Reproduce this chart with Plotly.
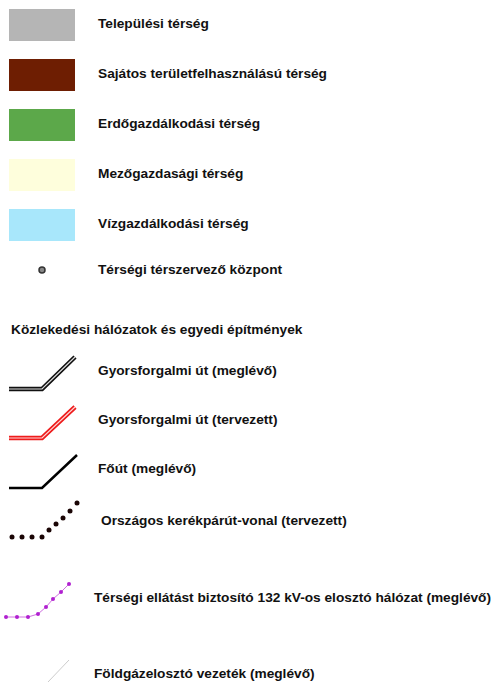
import plotly.graph_objects as go

# ---- data ----
area_labels = ["Települési térség", "Sajátos területfelhasználású térség",
               "Erdőgazdálkodási térség", "Mezőgazdasági térség", "Vízgazdálkodási térség"]
area_colors = ["#b5b5b5", "#6e1e02", "#5ca84a", "#fefedc", "#a8e7fb"]
center_label = "Térségi térszervező központ"
section_title = "Közlekedési hálózatok és egyedi építmények"
line_labels = ["Gyorsforgalmi út (meglévő)", "Gyorsforgalmi út (tervezett)", "Főút (meglévő)",
               "Országos kerékpárút-vonal (tervezett)",
               "Térségi ellátást biztosító 132 kV-os elosztó hálózat (meglévő)",
               "Földgázelosztó vezeték (meglévő)"]

# symbol geometry (legend glyph shapes in pixel units)
expr_x = [9, 42, 75]; expr_y = [389, 389, 357]
plan_x = [9, 42, 75]; plan_y = [438, 438, 407]
main_x = [9, 42, 77]; main_y = [488, 488, 455]
bike_x = [12, 22, 32, 42, 49, 56, 63, 70, 77]
bike_y = [537, 537, 537, 537, 530, 524, 518, 511, 503]
pow_x = [6, 17, 28, 38, 46, 53, 61, 69]
pow_y = [617, 617, 617, 614, 607, 599, 592, 584]
gas_x = [48, 69]; gas_y = [682, 660]

fig = go.Figure()
FONT = dict(family="Liberation Sans, Arial, sans-serif", size=13.7, color="#111111")

shapes = []
annotations = []
for i, (lab, col) in enumerate(zip(area_labels, area_colors)):
    y0 = 9 + 50 * i
    shapes.append(dict(type="rect", xref="x", yref="y", x0=9, x1=75, y0=y0, y1=y0 + 32,
                       fillcolor=col, line=dict(width=0), layer="below"))
    annotations.append(dict(x=96, y=y0 + 14, text="<b>%s</b>" % lab, showarrow=False,
                            xanchor="left", yanchor="middle", font=FONT))

# center dot
fig.add_trace(go.Scatter(x=[42], y=[270], mode="markers",
                         marker=dict(size=6, color="#888888", line=dict(color="#333333", width=1.5))))
annotations.append(dict(x=96, y=269, text="<b>%s</b>" % center_label, showarrow=False,
                        xanchor="left", yanchor="middle", font=FONT))
annotations.append(dict(x=9, y=329, text="<b>%s</b>" % section_title, showarrow=False,
                        xanchor="left", yanchor="middle", font=FONT))

# expressway existing (double black)
fig.add_trace(go.Scatter(x=expr_x, y=expr_y, mode="lines", line=dict(color="#111111", width=4.5)))
fig.add_trace(go.Scatter(x=expr_x, y=expr_y, mode="lines", line=dict(color="#dddddd", width=1.2)))
# expressway planned (double red)
fig.add_trace(go.Scatter(x=plan_x, y=plan_y, mode="lines", line=dict(color="#ee1c1c", width=4.5)))
fig.add_trace(go.Scatter(x=plan_x, y=plan_y, mode="lines", line=dict(color="#ffd6d6", width=1.2)))
# main road
fig.add_trace(go.Scatter(x=main_x, y=main_y, mode="lines", line=dict(color="#000000", width=2.5)))
# bike route
fig.add_trace(go.Scatter(x=bike_x, y=bike_y, mode="markers",
                         marker=dict(size=5, color="#1a0505")))
# power line
fig.add_trace(go.Scatter(x=pow_x, y=pow_y, mode="lines+markers",
                         line=dict(color="#d070e0", width=1),
                         marker=dict(size=4, color="#b020d0")))
# gas line
fig.add_trace(go.Scatter(x=gas_x, y=gas_y, mode="lines", line=dict(color="#cccccc", width=1)))

text_pos = [(96, 370), (96, 419), (96, 468), (99, 520), (92, 597), (92, 673)]
for lab, (tx, ty) in zip(line_labels, text_pos):
    annotations.append(dict(x=tx, y=ty, text="<b>%s</b>" % lab, showarrow=False,
                            xanchor="left", yanchor="middle", font=FONT))

fig.update_layout(
    width=498, height=682, margin=dict(l=0, r=0, t=0, b=0),
    plot_bgcolor="white", paper_bgcolor="white", showlegend=False,
    xaxis=dict(range=[0, 498], visible=False, fixedrange=True),
    yaxis=dict(range=[682, 0], visible=False, fixedrange=True),
    shapes=shapes, annotations=annotations,
)
fig.write_html("out.html", config={"displayModeBar": False},
               post_script="document.body.style.margin='0';document.body.style.overflow='hidden';")
